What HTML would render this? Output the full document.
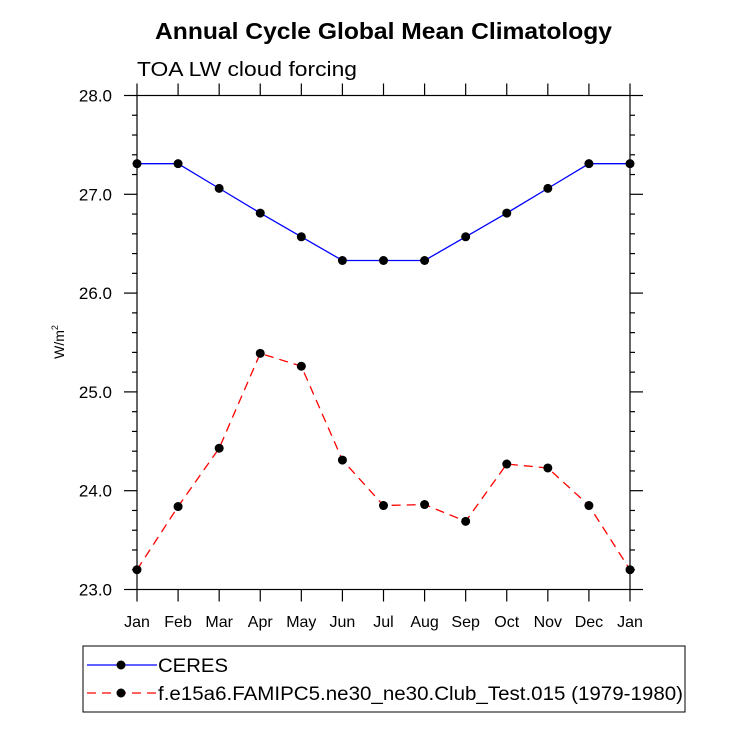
<!DOCTYPE html>
<html><head><meta charset="utf-8"><style>
body{margin:0;background:#fff}
svg text{font-family:"Liberation Sans",sans-serif}
</style></head><body>
<svg id="c" width="732" height="732" xmlns="http://www.w3.org/2000/svg">
<text x="155" y="39" textLength="457" lengthAdjust="spacingAndGlyphs" font-size="23" font-weight="bold">Annual Cycle Global Mean Climatology</text>
<text x="137" y="76" textLength="220" lengthAdjust="spacingAndGlyphs" font-size="20">TOA LW cloud forcing</text>
<text transform="translate(64,342) rotate(-90)" text-anchor="middle" font-size="14">W/m<tspan font-size="9" dy="-6">2</tspan></text>
<g id="axes"></g>
<g id="series"></g>
<rect x="83" y="646" width="602" height="66" fill="none" stroke="#000" stroke-width="1"/>
<g>
<line x1="87" y1="665" x2="157" y2="665" stroke="#00f" stroke-width="1.3"/>
<circle cx="121" cy="665" r="4.5" fill="#000"/>
<text x="158" y="672" font-size="19" textLength="70" lengthAdjust="spacingAndGlyphs">CERES</text>
</g>
<g>
<line x1="87" y1="693" x2="157" y2="693" stroke="#f00" stroke-width="1.3" stroke-dasharray="9,6"/>
<circle cx="121" cy="693" r="4.5" fill="#000"/>
<text x="158" y="700" font-size="19" textLength="525" lengthAdjust="spacingAndGlyphs">f.e15a6.FAMIPC5.ne30_ne30.Club_Test.015 (1979-1980)</text>
</g>
</svg>
<script>
const months=["Jan","Feb","Mar","Apr","May","Jun","Jul","Aug","Sep","Oct","Nov","Dec","Jan"];
const ceres=[27.31,27.31,27.06,26.81,26.57,26.33,26.33,26.33,26.57,26.81,27.06,27.31,27.31];
const model=[23.20,23.84,24.43,25.39,25.26,24.31,23.85,23.86,23.69,24.27,24.23,23.85,23.20];
const yTicks=["23.0","24.0","25.0","26.0","27.0","28.0"];
const yMin=23,yMax=28,L=137,R=630,T=95.5,B=589.5;
const NS="http://www.w3.org/2000/svg";
const xs=i=>L+(R-L)*i/(months.length-1);
const ys=v=>B-(B-T)*(v-yMin)/(yMax-yMin);
function mk(t,a,p){const e=document.createElementNS(NS,t);for(const k in a)e.setAttribute(k,a[k]);p.appendChild(e);return e;}
const ax=document.getElementById('axes');
const fr=mk('rect',{x:L,y:T,width:R-L,height:B-T,fill:'none',stroke:'#000','stroke-width':1.2},ax);


months.forEach((m,i)=>{const x=xs(i);
 mk('line',{x1:x,y1:T,x2:x,y2:T-12,stroke:'#000','stroke-width':1.2},ax);
 mk('line',{x1:x,y1:B,x2:x,y2:B+12,stroke:'#000','stroke-width':1.2},ax);
 const t=mk('text',{x:x,y:627,'text-anchor':'middle','font-size':16},ax);t.textContent=m;
 
 
});
for(let v=yMin;v<=yMax+1e-9;v+=0.2){const y=ys(v);const major=Math.abs(v-Math.round(v))<1e-6;const len=major?13:5;
 mk('line',{x1:L,y1:y,x2:L-len,y2:y,stroke:'#000','stroke-width':1.2},ax);
 mk('line',{x1:R,y1:y,x2:R+len,y2:y,stroke:'#000','stroke-width':1.2},ax);}
yTicks.forEach(s=>{const t=mk('text',{x:112,y:ys(parseFloat(s))+6,'text-anchor':'end','font-size':17},ax);t.textContent=s;
 
 });
const sg=document.getElementById('series');
function series(d,col,dash,name){const g=mk('g',{},sg);
 
 
 const a={points:d.map((v,i)=>xs(i)+','+ys(v)).join(' '),fill:'none',stroke:col,'stroke-width':1.3};if(dash)a['stroke-dasharray']=dash;
 mk('polyline',a,g);
 d.forEach((v,i)=>{const c=mk('circle',{cx:xs(i),cy:ys(v),r:4.5,fill:'#000'},g);
  
  });}
series(ceres,'#00f',null,'series-ceres');
series(model,'#f00','9,6','series-model');
</script>
</body></html>
